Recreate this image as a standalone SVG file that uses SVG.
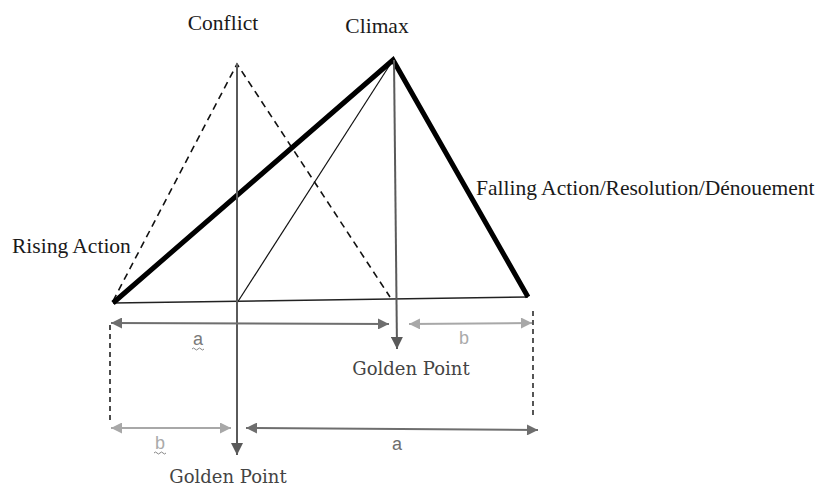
<svg xmlns="http://www.w3.org/2000/svg" width="821" height="489" viewBox="0 0 821 489">
<style>
.lbl{font-family:"Liberation Serif","Times New Roman",serif;font-size:21.5px;fill:#1a1a1a}
.gp{font-family:"DejaVu Serif","Liberation Serif",serif;font-size:18px;fill:#444}
.dim{font-family:"Liberation Sans",Arial,sans-serif;font-size:18px}
.dark{stroke:#6e6e6e;stroke-width:2;fill:none}
.light{stroke:#a8a8a8;stroke-width:2;fill:none}
.gold{stroke:#5a5a5a;stroke-width:2;fill:none}
.sq{stroke:#888;stroke-width:1;fill:none}
</style>
<defs>
<marker id="ad" viewBox="0 0 10 10" refX="10" refY="5" markerWidth="14" markerHeight="11" markerUnits="userSpaceOnUse" orient="auto-start-reverse"><path d="M0,0L10,5L0,10z" fill="#6e6e6e"/></marker>
<marker id="al" viewBox="0 0 10 10" refX="10" refY="5" markerWidth="14" markerHeight="11" markerUnits="userSpaceOnUse" orient="auto-start-reverse"><path d="M0,0L10,5L0,10z" fill="#a8a8a8"/></marker>
<marker id="ag" viewBox="0 0 10 10" refX="10" refY="5" markerWidth="14" markerHeight="12" markerUnits="userSpaceOnUse" orient="auto"><path d="M0,0L10,5L0,10z" fill="#5a5a5a"/></marker>
</defs>
<g id="triangle">
<path d="M237,303L393,60" stroke="#111" stroke-width="1.2" fill="none"/>
<path d="M113,301L237,64L390,297" stroke="#111" stroke-width="1.6" stroke-dasharray="7,5" fill="none"/>
<path d="M113,303L528,297" stroke="#222" stroke-width="1.6" fill="none"/>
<path d="M113,303L393,60L528,297" stroke="#000" stroke-width="5" stroke-linejoin="miter" fill="none"/>
</g>
<g id="connectors">
<path class="gold" d="M237,64L237,455" marker-end="url(#ag)"/>
<path class="gold" d="M394,60L397,349" marker-end="url(#ag)"/>
<path class="dark" d="M111,323L389,324" marker-start="url(#ad)" marker-end="url(#ad)"/>
<path class="light" d="M409,324L532,323" marker-start="url(#al)" marker-end="url(#al)"/>
<path d="M110,325L110,420" stroke="#111" stroke-width="1.5" stroke-dasharray="5,4"/>
<path d="M533,311L533,417" stroke="#444" stroke-width="1.8" stroke-dasharray="5,4"/>
<path class="light" d="M111,428L231,428" marker-start="url(#al)" marker-end="url(#al)"/>
<path class="dark" d="M246,428L538,430" marker-start="url(#ad)" marker-end="url(#ad)"/>
</g>
<g id="conflict"><text class="lbl" x="223" y="30" text-anchor="middle">Conflict</text></g>
<g id="climax"><text class="lbl" x="377" y="33" text-anchor="middle">Climax</text></g>
<g id="rising"><text class="lbl" x="12" y="253">Rising Action</text></g>
<g id="falling"><text class="lbl" x="476" y="195">Falling Action/Resolution/Dénouement</text></g>
<g id="golden1"><text class="gp" x="411" y="375" text-anchor="middle">Golden Point</text></g>
<g id="golden2"><text class="gp" x="228" y="483" text-anchor="middle">Golden Point</text></g>
<g id="dim-a-top"><text class="dim" x="198" y="345" text-anchor="middle" fill="#7a7a7a">a</text>
<path class="sq" d="M192,349q1.5,-2 3,0t3,0t3,0t3,0"/></g>
<g id="dim-b-top"><text class="dim" x="464" y="344" text-anchor="middle" fill="#aaaaaa">b</text></g>
<g id="dim-b-bottom"><text class="dim" x="160" y="449" text-anchor="middle" fill="#aaaaaa">b</text>
<path class="sq" d="M154,453q1.5,-2 3,0t3,0t3,0t3,0"/></g>
<g id="dim-a-bottom"><text class="dim" x="397" y="450" text-anchor="middle" fill="#6e6e6e">a</text></g>
</svg>
